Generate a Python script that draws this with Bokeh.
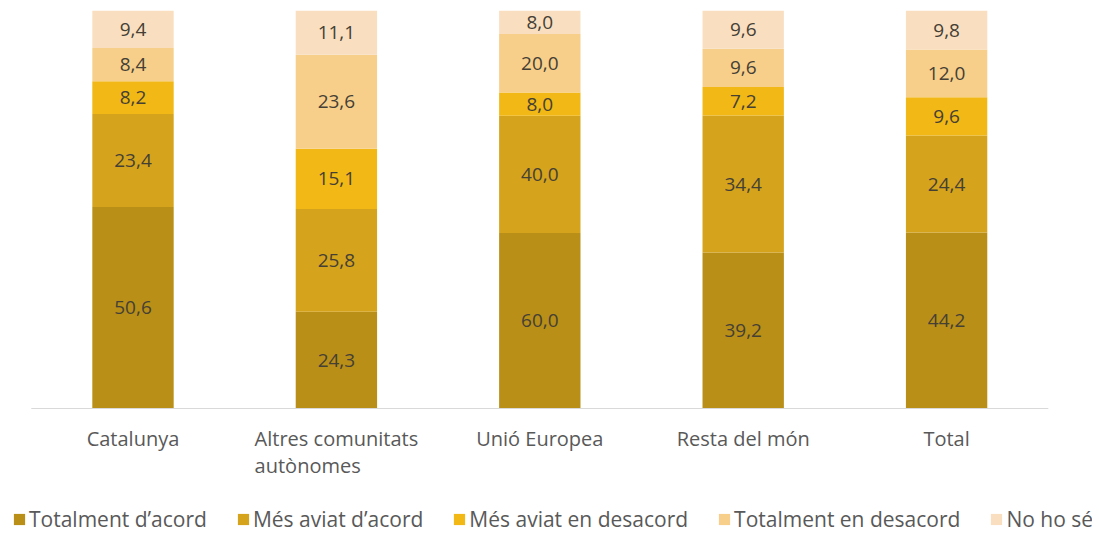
from bokeh.plotting import figure
from bokeh.models import ColumnDataSource, LabelSet, Legend, LegendItem, Range1d
from bokeh.core.properties import value
from bokeh.embed import file_html
from bokeh.resources import INLINE

categories = ["Catalunya", "Altres comunitats\nautònomes", "Unió Europea", "Resta del món", "Total"]
series_names = ["Totalment d\u2019acord", "Més aviat d\u2019acord", "Més aviat en desacord",
                "Totalment en desacord", "No ho sé"]
totalment_acord = [50.6, 24.3, 60.0, 39.2, 44.2]
mes_aviat_acord = [23.4, 25.8, 40.0, 34.4, 24.4]
mes_aviat_desacord = [8.2, 15.1, 8.0, 7.2, 9.6]
totalment_desacord = [8.4, 23.6, 20.0, 9.6, 12.0]
no_ho_se = [9.4, 11.1, 8.0, 9.6, 9.8]
colors = ["#B98F17", "#D5A31C", "#F2B816", "#F7CF8A", "#F9DFC0"]

series = [totalment_acord, mes_aviat_acord, mes_aviat_desacord, totalment_desacord, no_ho_se]
n = len(categories)
totals = [sum(s[i] for s in series) for i in range(n)]
idx = list(range(n))

data = {"x": idx, "cat": categories}
keys = []
for k, s in enumerate(series):
    key = f"s{k}"
    keys.append(key)
    data[key] = [v / t * 100 for v, t in zip(s, totals)]
source = ColumnDataSource(data)

# layout in pixels: frame spans x 12..1092, y 10..533; baseline at 408, slot 203.4px, first centre 132.5
W, H = 1095, 533
left, right, top = 12, 1092, 10
base_px, slot_px, c0_px = 408, 203.4, 132.5
ppu = (base_px - top) / 100.0
x_start = (left - c0_px) / slot_px
x_end = (right - c0_px) / slot_px
y_start = -(H - base_px) / ppu

p = figure(x_range=Range1d(x_start, x_end), y_range=Range1d(y_start, 100),
           width=W, height=H, output_backend="svg", toolbar_location=None,
           min_border_left=left, min_border_right=W - right, min_border_top=top, min_border_bottom=0)
p.xaxis.visible = False
p.yaxis.visible = False
p.grid.visible = False
p.outline_line_color = None

renderers = p.vbar_stack(keys, x="x", width=0.4, color=colors, line_color=None, source=source)

# baseline (category axis line)
p.segment(x0=[-0.5], y0=[0], x1=[n - 0.5], y1=[0], line_color="#D9D9D9", line_width=1)

# value labels
for k, s in enumerate(series):
    bottoms = [sum(data[keys[j]][i] for j in range(k)) for i in range(n)]
    mids = [b + data[keys[k]][i] / 2 for i, b in enumerate(bottoms)]
    lab_src = ColumnDataSource(dict(x=idx, y=mids,
                                    txt=[f"{v:.1f}".replace(".", ",") for v in s]))
    p.add_layout(LabelSet(x="x", y="y", text="txt", source=lab_src,
                          text_align="center", text_baseline="middle",
                          text_font=value("Open Sans"), text_font_size=value("19px"),
                          text_color="#454035"))

# category labels
cat_src = ColumnDataSource(dict(x=idx, y=[0] * n, txt=categories))
p.add_layout(LabelSet(x="x", y="y", text="txt", source=cat_src, y_offset=-16,
                      text_align="center", text_baseline="top",
                      text_font=value("Open Sans"), text_font_size=value("20px"),
                      text_line_height=1.0, text_color="#595959"))

items = [LegendItem(label=nm, renderers=[r]) for nm, r in zip(series_names, renderers)]
legend = Legend(items=items, orientation="horizontal", location=(0, 0),
                label_text_font="Open Sans", label_text_font_size="21px", label_text_color="#595959",
                glyph_width=14, glyph_height=14, label_standoff=3, spacing=29,
                padding=0, margin=0, border_line_color=None, background_fill_alpha=0)
p.add_layout(legend, "center")

open("out.html", "w").write(file_html(p, INLINE))
